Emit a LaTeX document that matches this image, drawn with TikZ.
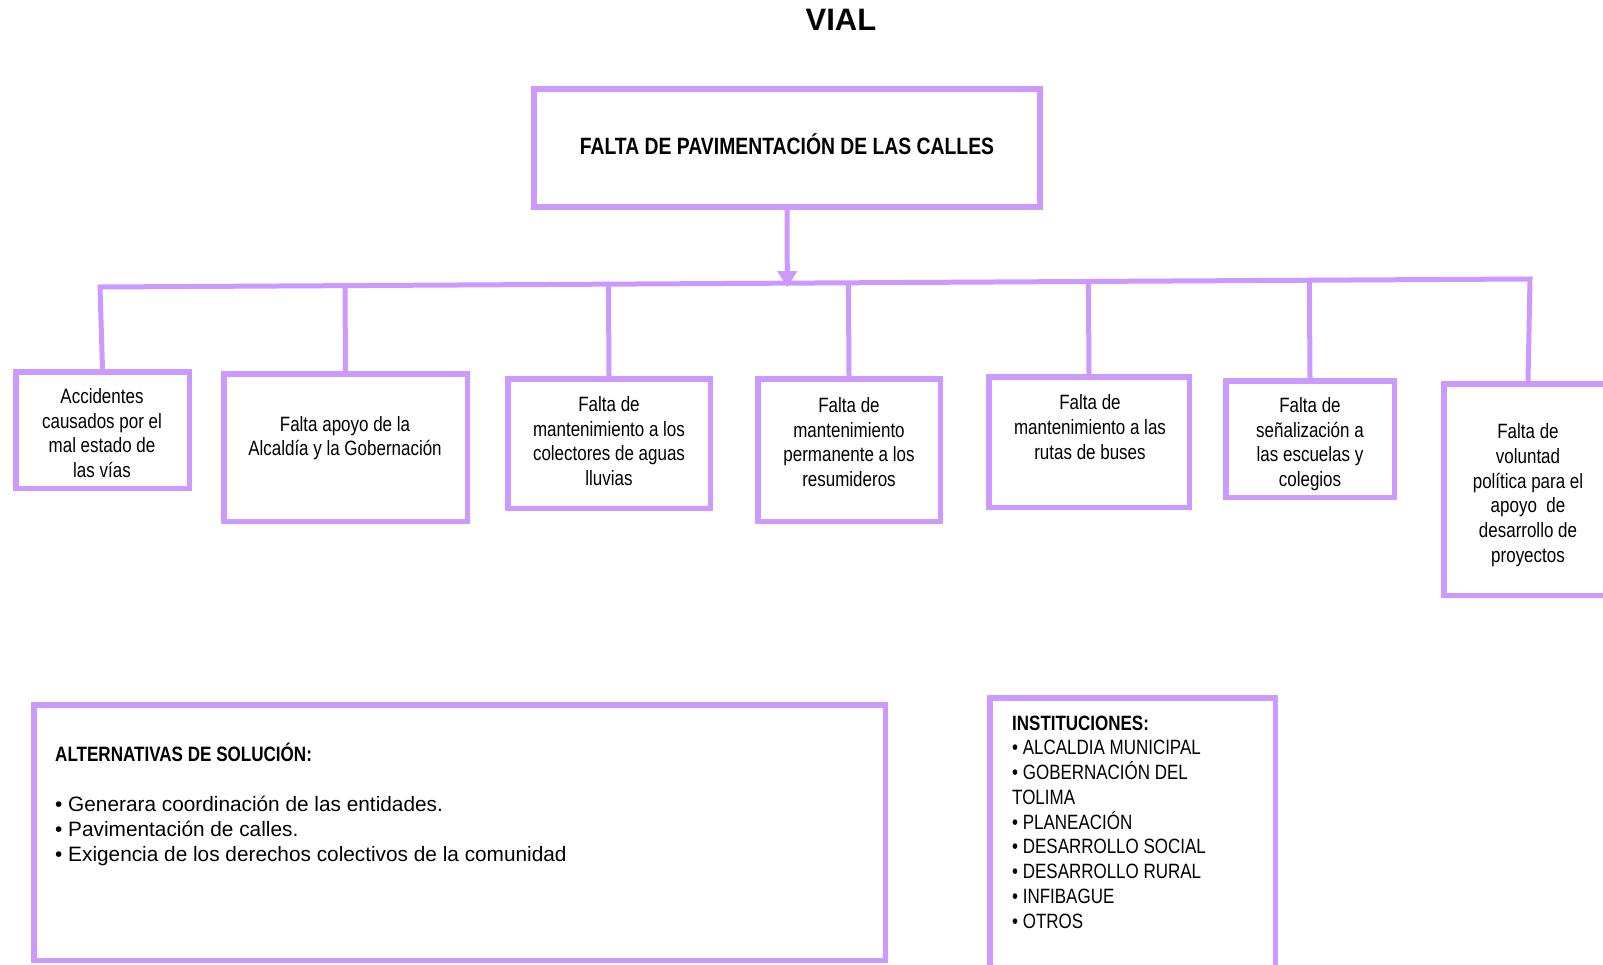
\documentclass[tikz,border=0pt]{standalone}
\usepackage{fontspec}
\setmainfont{Liberation Sans}
\newfontfamily\narrowfont{Liberation Sans}[FakeStretch=0.82]
\usetikzlibrary{arrows.meta,calc}
\definecolor{lav}{RGB}{204,153,255}
\tikzset{
  boxnode/.style={draw=lav, line width=5.5pt, inner sep=0pt},
  boxtext/.style={align=center, inner sep=0pt, font=\narrowfont\fontsize{20.7}{24.7}\selectfont},
  conn/.style={draw=lav, line width=5pt},
}
\begin{document}
\begin{tikzpicture}[x=1pt,y=-1pt]
\fill[white] (0,0) rectangle (1603,965);
\useasboundingbox (0,0) rectangle (1603,965);

% title
\node[font=\bfseries\fontsize{31}{36}\selectfont, inner sep=0pt] (title) at (841,20) {VIAL};

% top box
\node[boxnode, line width=6pt, minimum width=506pt, minimum height=118pt] (top) at (787,148) {};
\node[inner sep=0pt, font=\narrowfont\bfseries\fontsize{23.6}{27}\selectfont] (toptext) at (787,144) {FALTA DE PAVIMENTACIÓN DE LAS CALLES};

% cause boxes
\node[boxnode, minimum width=173.5pt, minimum height=116.5pt] (b1) at (102.5,430) {};
\node[boxnode, minimum width=243.5pt, minimum height=147.5pt] (b2) at (345.5,447.5) {};
\node[boxnode, minimum width=202.5pt, minimum height=129.5pt] (b3) at (609,443.5) {};
\node[boxnode, minimum width=182.5pt, minimum height=142.5pt] (b4) at (849,450) {};
\node[boxnode, minimum width=200.5pt, minimum height=130.5pt] (b5) at (1089,442) {};
\node[boxnode, minimum width=168.5pt, minimum height=116.5pt] (b6) at (1310,439) {};
\node[boxnode, minimum width=168.5pt, minimum height=211.5pt] (b7) at (1528,489.5) {};

\node[boxtext] (t1) at (102,433) {Accidentes\\causados por el\\mal estado de\\las vías};
\node[boxtext] (t2) at (345,438) {Falta apoyo de la\\Alcaldía y la Gobernación};
\node[boxtext] (t3) at (609,441) {Falta de\\mantenimiento a los\\colectores de aguas\\lluvias};
\node[boxtext] (t4) at (849,442) {Falta de\\mantenimiento\\permanente a los\\resumideros};
\node[boxtext] (t5) at (1090,427) {Falta de\\mantenimiento a las\\rutas de buses};
\node[boxtext] (t6) at (1310,444) {Falta de\\señalización a\\las escuelas y\\colegios};
\node[boxtext] (t7) at (1528,495) {Falta de\\voluntad\\política para el\\apoyo~ de\\desarrollo de\\proyectos};

% bus line
\coordinate (busL) at (100,287);
\coordinate (busR) at (1530,279);
\draw[conn] (b1.north) -- (busL) -- (busR) -- (b7.north);
\foreach \b in {b2,b3,b4,b5,b6}
  \draw[conn] (\b.north) -- ($(busL)!(\b.north)!(busR)$);
\draw[conn, -{Triangle[width=19pt,length=16pt]}] (top.south) -- ($(busL)!(top.south)!(busR) + (0,4)$);

% alternatives
\node[boxnode, minimum width=851.5pt, minimum height=255.5pt] (alt) at (459.5,832.5) {};
\node[anchor=west, align=left, inner sep=0pt, font=\fontsize{20.8}{25}\selectfont] (alttext) at (55,804)
  {{\narrowfont\bfseries ALTERNATIVAS DE SOLUCIÓN:}\\[25pt]
   • Generara coordinación de las entidades.\\
   • Pavimentación de calles.\\
   • Exigencia de los derechos colectivos de la comunidad};

% institutions
\node[boxnode, minimum width=285.5pt, minimum height=299.5pt] (inst) at (1132.5,847.5) {};
\node[anchor=west, align=left, inner sep=0pt, font=\narrowfont\fontsize{20.7}{24.75}\selectfont] (insttext) at (1012,822)
  {\textbf{INSTITUCIONES:}\\
   • ALCALDIA MUNICIPAL\\
   • GOBERNACIÓN DEL\\
   TOLIMA\\
   • PLANEACIÓN\\
   • DESARROLLO SOCIAL\\
   • DESARROLLO RURAL\\
   • INFIBAGUE\\
   • OTROS};
\end{tikzpicture}
\end{document}
